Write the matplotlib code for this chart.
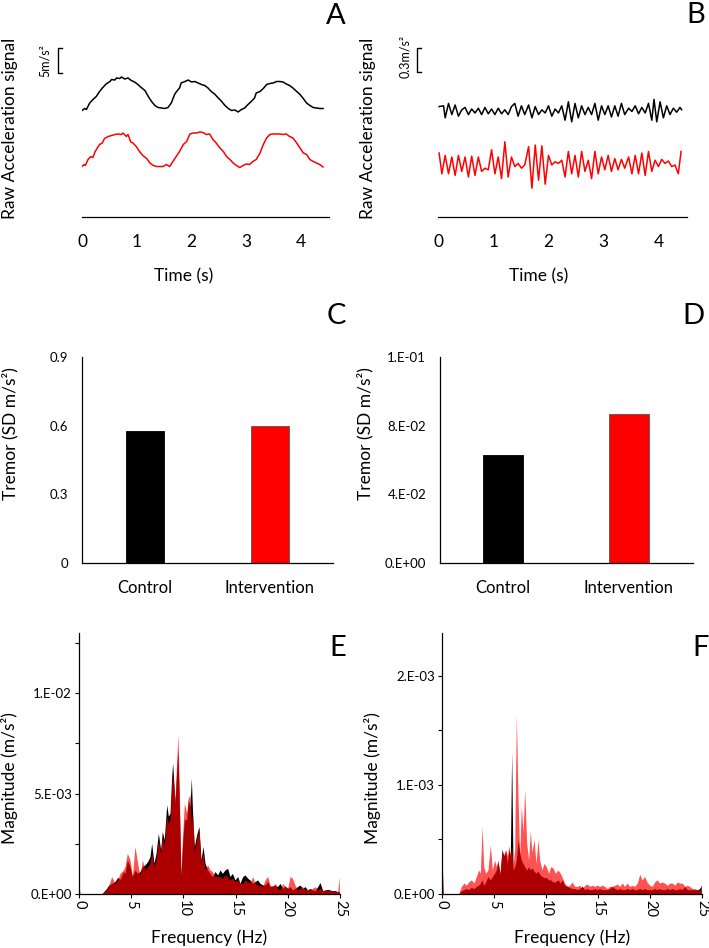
import numpy as np
import matplotlib
matplotlib.use("Agg")
import matplotlib.pyplot as plt

plt.rcParams['font.family'] = ['Lato', 'DejaVu Sans']

# ---- A: raw acceleration, high amplitude (m/s^2) ----
a_black_t = [0.00, 0.05, 0.08, 0.14, 0.20, 0.26, 0.32, 0.38, 0.44, 0.51, 0.54, 0.60, 0.63, 0.69, 0.72,
             0.78, 0.84, 0.90, 0.96, 1.02, 1.08, 1.15, 1.21, 1.27, 1.33, 1.39, 1.45, 1.51, 1.57, 1.63,
             1.69, 1.72, 1.78, 1.81, 1.88, 1.94, 2.00, 2.06, 2.12, 2.18, 2.24, 2.30, 2.36, 2.42, 2.48,
             2.55, 2.61, 2.67, 2.73, 2.79, 2.85, 2.91, 2.97, 3.03, 3.09, 3.15, 3.18, 3.25, 3.31, 3.37,
             3.43, 3.49, 3.55, 3.61, 3.67, 3.73, 3.79, 3.85, 3.92, 3.98, 4.04, 4.10, 4.16, 4.22, 4.28,
             4.34, 4.40]
a_black = [21.3, 21.7, 21.5, 22.8, 23.5, 24.1, 25.1, 25.9, 26.6, 27.1, 27.5, 27.4, 27.8, 27.7, 28.0,
           27.6, 27.8, 27.3, 27.0, 26.5, 25.9, 25.3, 24.1, 23.1, 22.3, 21.9, 21.8, 21.7, 21.9, 22.8,
           24.5, 25.0, 25.8, 26.8, 27.1, 27.4, 27.0, 27.1, 26.8, 26.5, 26.3, 25.8, 25.1, 24.6, 23.9,
           23.1, 22.3, 21.7, 21.3, 21.4, 21.0, 21.5, 21.8, 22.5, 23.1, 23.8, 24.8, 25.1, 25.7, 26.5,
           26.7, 26.8, 27.1, 27.1, 27.0, 26.6, 26.3, 25.8, 25.1, 24.5, 23.7, 22.8, 22.3, 21.9, 21.8,
           21.7, 21.7]
a_red_t = [0.00, 0.04, 0.06, 0.11, 0.16, 0.20, 0.24, 0.28, 0.32, 0.37, 0.41, 0.48, 0.54, 0.60, 0.66,
           0.72, 0.75, 0.81, 0.84, 0.89, 0.93, 0.99, 1.05, 1.11, 1.18, 1.24, 1.30, 1.36, 1.42, 1.48,
           1.54, 1.60, 1.66, 1.72, 1.78, 1.85, 1.91, 1.97, 2.03, 2.09, 2.15, 2.21, 2.27, 2.33, 2.39,
           2.45, 2.51, 2.58, 2.64, 2.70, 2.76, 2.82, 2.88, 2.94, 3.00, 3.06, 3.12, 3.18, 3.25, 3.31,
           3.37, 3.43, 3.49, 3.55, 3.61, 3.67, 3.73, 3.79, 3.85, 3.92, 3.98, 4.04, 4.10, 4.16, 4.22,
           4.28, 4.34, 4.40]
a_red = [10.1, 10.5, 10.3, 11.5, 12.1, 11.9, 13.1, 13.8, 14.5, 14.8, 15.7, 16.1, 16.3, 16.5, 16.6,
         16.5, 16.8, 16.1, 16.5, 15.0, 14.8, 14.1, 13.1, 12.3, 11.7, 10.8, 10.3, 10.1, 10.1, 10.1,
         10.5, 10.1, 11.1, 12.1, 13.1, 14.5, 15.1, 16.6, 16.8, 16.8, 17.0, 16.9, 16.5, 16.6, 15.5,
         14.8, 13.9, 13.1, 12.1, 11.5, 10.8, 10.3, 9.9, 10.3, 10.6, 10.5, 11.1, 11.5, 12.8, 14.5,
         15.8, 16.5, 16.6, 16.6, 16.6, 16.5, 16.6, 16.1, 15.8, 14.8, 13.8, 12.8, 12.5, 11.5, 11.1,
         10.8, 10.5, 10.0]

# ---- B: raw acceleration, low amplitude (deviation, m/s^2) ----
b_black_t = [0.02, 0.10, 0.13, 0.19, 0.25, 0.31, 0.37, 0.43, 0.49, 0.55, 0.61, 0.67, 0.73, 0.79, 0.85,
             0.91, 0.97, 1.03, 1.09, 1.15, 1.21, 1.27, 1.33, 1.39, 1.45, 1.51, 1.57, 1.64, 1.70, 1.76,
             1.82, 1.88, 1.94, 2.00, 2.06, 2.12, 2.18, 2.24, 2.30, 2.36, 2.42, 2.48, 2.54, 2.60, 2.66,
             2.72, 2.78, 2.84, 2.90, 2.96, 3.02, 3.08, 3.14, 3.20, 3.26, 3.32, 3.38, 3.45, 3.51, 3.57,
             3.63, 3.69, 3.75, 3.81, 3.87, 3.91, 3.96, 4.02, 4.08, 4.14, 4.20, 4.26, 4.32, 4.38, 4.41]
b_black = [0.04, 0.05, -0.10, 0.08, -0.06, 0.06, -0.08, 0.00, 0.03, -0.06, 0.01, -0.04, 0.02, -0.06, 0.03,
           -0.05, 0.01, -0.06, 0.02, -0.05, 0.00, -0.06, 0.04, 0.08, -0.08, 0.05, -0.06, 0.06, -0.10, 0.04,
           -0.06, 0.00, -0.04, 0.05, -0.08, 0.01, -0.04, 0.05, -0.13, 0.10, -0.15, 0.08, -0.10, 0.05, -0.06,
           0.03, -0.06, 0.08, -0.13, 0.05, -0.06, 0.05, -0.09, 0.05, -0.08, 0.08, -0.06, 0.02, -0.02, 0.05,
           -0.05, 0.03, -0.04, 0.08, -0.13, 0.13, -0.15, 0.10, -0.10, 0.05, -0.06, 0.02, -0.03, 0.03, 0.00]
b_red_t = [0.02, 0.07, 0.13, 0.19, 0.25, 0.31, 0.37, 0.43, 0.49, 0.55, 0.61, 0.67, 0.73, 0.79, 0.85,
           0.91, 0.97, 1.03, 1.09, 1.15, 1.21, 1.27, 1.33, 1.39, 1.45, 1.51, 1.57, 1.64, 1.70, 1.76,
           1.82, 1.88, 1.94, 2.00, 2.06, 2.12, 2.18, 2.24, 2.30, 2.36, 2.42, 2.48, 2.54, 2.60, 2.66,
           2.72, 2.78, 2.84, 2.90, 2.96, 3.02, 3.08, 3.14, 3.20, 3.26, 3.32, 3.38, 3.45, 3.51, 3.57,
           3.63, 3.69, 3.75, 3.81, 3.87, 3.93, 3.99, 4.05, 4.11, 4.17, 4.23, 4.29, 4.35, 4.40]
b_red = [0.13, -0.13, 0.10, -0.13, 0.08, -0.15, 0.10, -0.10, 0.08, -0.17, 0.09, -0.15, 0.08, -0.10, -0.06,
         -0.08, 0.17, -0.13, 0.08, -0.19, 0.27, -0.17, 0.08, -0.04, 0.00, -0.06, -0.02, 0.21, -0.31, 0.23,
         -0.21, 0.22, -0.26, 0.10, -0.02, 0.02, 0.00, 0.04, -0.17, 0.15, -0.13, 0.10, -0.17, 0.15, -0.10,
         0.04, -0.19, 0.15, -0.13, 0.08, -0.08, 0.10, -0.10, 0.06, -0.08, 0.05, -0.06, 0.08, -0.13, 0.10,
         -0.13, 0.13, -0.15, 0.15, -0.10, 0.04, -0.04, 0.05, 0.00, 0.03, -0.04, -0.02, -0.13, 0.15]

# ---- C / D: tremor SD ----
groups = ['Control', 'Intervention']
tremor_c = [0.577, 0.598]
tremor_d = [0.0629, 0.0868]
c_ticks = [0, 0.3, 0.6, 0.9]
c_ticklabels = ['0', '0.3', '0.6', '0.9']
d_ticks = [0, 0.04, 0.08, 0.12]
d_ticklabels = ['0.E+00', '4.E-02', '8.E-02', '1.E-01']

# ---- E: spectrum, high amplitude (x 1e-3 m/s^2) ----
e_freq = [0.0, 0.12, 2.17, 2.65, 2.81, 3.13, 3.45, 3.70, 3.93, 4.25, 4.41, 4.63, 4.89, 5.11, 5.36,
          5.62, 5.84, 6.07, 6.32, 6.58, 6.80, 6.96, 7.18, 7.38, 7.60, 7.82, 7.98, 8.17, 8.40, 8.56,
          8.72, 8.88, 8.97, 9.20, 9.36, 9.48, 9.64, 9.77, 9.90, 10.09, 10.31, 10.47, 10.63, 10.76, 10.89,
          11.05, 11.27, 11.49, 11.69, 11.88, 12.07, 12.32, 12.55, 12.77, 13.03, 13.28, 13.51, 13.73, 13.99, 14.24,
          14.46, 14.69, 14.94, 15.20, 15.42, 15.68, 15.90, 16.16, 16.38, 16.64, 16.86, 17.11, 17.34, 17.59, 17.82,
          18.07, 18.30, 18.55, 18.77, 19.03, 19.25, 19.51, 19.73, 19.99, 20.21, 20.44, 20.69, 20.95, 21.17, 21.43,
          21.65, 21.90, 22.13, 22.38, 22.61, 22.86, 23.09, 23.34, 23.56, 23.82, 24.04, 24.27, 24.52, 24.78, 24.94]
e_black = [0, 0, 0, 0.28, 0.42, 0.53, 0.62, 0.83, 0.73, 1.12, 1.03, 1.70, 1.37, 0.87, 1.20,
           1.03, 1.12, 1.37, 1.45, 1.62, 1.87, 2.53, 1.53, 2.03, 3.03, 2.20, 3.12, 2.70, 4.45, 3.87,
           4.03, 5.87, 6.53, 4.53, 6.20, 7.20, 3.70, 0.87, 2.37, 3.70, 3.70, 4.70, 4.37, 5.78, 3.87,
           2.37, 2.95, 3.37, 1.70, 2.37, 1.53, 1.20, 1.03, 0.87, 1.12, 0.95, 1.20, 1.03, 1.20, 1.28,
           0.87, 1.03, 0.70, 0.87, 0.53, 0.87, 0.95, 0.78, 0.70, 0.53, 0.62, 0.70, 0.53, 0.45, 0.45,
           0.62, 0.37, 0.40, 0.45, 0.37, 0.53, 0.28, 0.40, 0.28, 0.37, 0.20, 0.28, 0.37, 0.45, 0.28,
           0.37, 0.20, 0.28, 0.20, 0.17, 0.37, 0.57, 0.17, 0.20, 0.23, 0.20, 0.17, 0.17, 0.12, 0.12]
e_red = [0.40, 0, 0, 0.20, 0.37, 0.87, 0.53, 0.70, 1.03, 1.20, 1.37, 2.03, 1.70, 0.87, 2.37,
         1.53, 0.87, 1.70, 1.20, 1.37, 1.53, 2.03, 1.37, 1.70, 2.70, 2.03, 2.87, 2.37, 3.87, 3.53,
         3.70, 5.37, 6.03, 4.70, 6.70, 7.95, 4.53, 0.70, 2.70, 4.53, 4.03, 4.78, 4.95, 3.37, 4.03,
         2.03, 2.70, 3.20, 1.53, 2.03, 1.20, 1.45, 1.20, 1.12, 0.87, 0.87, 0.87, 0.78, 0.95, 0.87,
         0.70, 0.78, 0.62, 0.70, 0.53, 0.53, 0.70, 0.62, 0.53, 0.87, 0.53, 0.45, 0.45, 0.37, 0.70,
         0.87, 0.45, 0.37, 0.53, 0.28, 0.20, 0.53, 0.37, 0.28, 0.87, 0.78, 0.45, 0.20, 0.28, 0.37,
         0.20, 0.23, 0.20, 0.28, 0.37, 0.20, 0.28, 0.17, 0.20, 0.17, 0.17, 0.17, 0.12, 0.12, 0.87]

# ---- F: spectrum, low amplitude (x 1e-3 m/s^2) ----
f_freq = [0.0, 0.1, 1.60, 1.86, 2.12, 2.34, 2.56, 2.82, 3.08, 3.30, 3.53, 3.69,
          3.85, 4.01, 4.20, 4.42, 4.65, 4.84, 5.06, 5.22, 5.38, 5.58,
          5.77, 5.93, 6.12, 6.28, 6.44, 6.57, 6.70, 6.83, 6.99, 7.15,
          7.31, 7.47, 7.63, 7.79, 7.95, 8.14, 8.33, 8.49, 8.65, 8.85,
          9.04, 9.23, 9.39, 9.62, 9.81, 10.03, 10.26, 10.45, 10.67, 10.90,
          11.15, 11.38, 11.57, 11.79, 12.05, 12.28, 12.50, 12.76, 13.01, 13.24,
          13.49, 13.72, 13.97, 14.20, 14.45, 14.68, 14.94, 15.16, 15.42, 15.64,
          15.90, 16.12, 16.38, 16.60, 16.86, 17.08, 17.34, 17.56, 17.82, 18.04,
          18.30, 18.52, 18.78, 19.01, 19.23, 19.49, 19.71, 19.97, 20.19, 20.45,
          20.67, 20.93, 21.15, 21.41, 21.67, 21.89, 22.15, 22.37, 22.63, 22.85,
          23.11, 23.33, 23.59, 23.81, 24.07, 24.29, 24.57, 24.77, 24.93]
f_black = [0.35, 0, 0, 0.03, 0.04, 0.05, 0.04, 0.06, 0.05, 0.07, 0.08, 0.10,
           0.13, 0.08, 0.11, 0.16, 0.13, 0.16, 0.19, 0.22, 0.30, 0.18,
           0.41, 0.35, 0.39, 0.28, 0.41, 0.35, 1.30, 0.22, 0.25, 0.31,
           0.50, 0.38, 0.31, 0.28, 0.25, 0.22, 0.25, 0.22, 0.24, 0.21,
           0.19, 0.21, 0.18, 0.16, 0.15, 0.15, 0.13, 0.13, 0.11, 0.11,
           0.13, 0.10, 0.13, 0.08, 0.07, 0.06, 0.05, 0.05, 0.04, 0.05,
           0.07, 0.04, 0.05, 0.04, 0.04, 0.05, 0.04, 0.05, 0.04, 0.04,
           0.04, 0.05, 0.07, 0.05, 0.04, 0.05, 0.04, 0.04, 0.05, 0.04,
           0.05, 0.04, 0.04, 0.05, 0.04, 0.05, 0.04, 0.04, 0.04, 0.05,
           0.04, 0.05, 0.04, 0.04, 0.05, 0.04, 0.05, 0.04, 0.04, 0.05,
           0.04, 0.07, 0.04, 0.04, 0.04, 0.04, 0.04, 0.05, 0.08]
f_red = [0.45, 0, 0, 0.07, 0.10, 0.08, 0.11, 0.13, 0.10, 0.16, 0.22, 0.19,
         0.62, 0.25, 0.19, 0.22, 0.45, 0.22, 0.31, 0.25, 0.31, 0.19,
         0.39, 0.35, 0.41, 0.35, 0.44, 0.35, 0.44, 0.25, 0.41, 1.65,
         0.87, 0.35, 0.81, 0.56, 0.96, 0.47, 0.31, 0.58, 0.38, 0.50,
         0.28, 0.50, 0.31, 0.22, 0.28, 0.25, 0.19, 0.25, 0.24, 0.19,
         0.22, 0.19, 0.15, 0.10, 0.07, 0.08, 0.11, 0.07, 0.07, 0.08,
         0.05, 0.08, 0.09, 0.07, 0.08, 0.07, 0.08, 0.07, 0.08, 0.07,
         0.05, 0.07, 0.07, 0.08, 0.09, 0.07, 0.10, 0.07, 0.10, 0.07,
         0.08, 0.07, 0.10, 0.18, 0.13, 0.16, 0.11, 0.08, 0.07, 0.11,
         0.13, 0.10, 0.11, 0.10, 0.08, 0.10, 0.10, 0.08, 0.11, 0.10,
         0.10, 0.07, 0.08, 0.07, 0.05, 0.05, 0.04, 0.04, 0.02]

W, H = 709, 948


def box(l, r, b, t):
    # pixel edges -> figure fraction rect
    return [l / W, 1 - b / H, (r - l) / W, (b - t) / H]


fig = plt.figure(figsize=(W / 100, H / 100), dpi=100)


def trace_axes(ax, ylab_x):
    for s in ['left', 'top', 'right']:
        ax.spines[s].set_visible(False)
    ax.spines['bottom'].set_linewidth(0.9)
    ax.set_yticks([])
    ax.set_xlim(0, 4.5)
    ax.set_xticks([0, 1, 2, 3, 4])
    ax.tick_params(axis='x', length=0, pad=12, labelsize=12.5)
    ax.set_ylabel('Raw Acceleration signal', fontsize=12.5)
    ax.yaxis.label.set_va('center')
    ax.yaxis.set_label_coords(ylab_x, 0.503)
    ax.set_xlabel('Time (s)', fontsize=12.5)
    ax.xaxis.label.set_va('center')


# A
axA = fig.add_axes(box(82, 328.5, 217, 40))
axA.plot(a_black_t, a_black, color='black', lw=1.1)
axA.plot(a_red_t, a_red, color='red', lw=1.1)
axA.set_ylim(0, 35.4)
trace_axes(axA, -0.292)
axA.xaxis.set_label_coords(0.414, -0.333)
scale_a = 5.0
axA.plot([-0.37, -0.44, -0.44, -0.37], [28.8 + scale_a, 28.8 + scale_a, 28.8, 28.8],
         color='black', lw=1.0, clip_on=False)
axA.text(-0.68, 31.2, '5m/s²', rotation=90, ha='center', va='center', fontsize=9)

# B
axB = fig.add_axes(box(438, 686.6, 217, 40))
axB.plot(b_black_t, np.array(b_black) + 1.34, color='black', lw=1.1)
axB.plot(b_red_t, np.array(b_red) + 0.67, color='red', lw=1.1)
axB.set_ylim(0, 2.2125)
trace_axes(axB, -0.282)
axB.xaxis.set_label_coords(0.406, -0.333)
scale_b = 0.3
axB.plot([-0.31, -0.38, -0.38, -0.31], [1.8125 + scale_b, 1.8125 + scale_b, 1.8125, 1.8125],
         color='black', lw=1.0, clip_on=False)
axB.text(-0.6, 2.0, '0.3m/s²', rotation=90, ha='center', va='center', fontsize=9)


def bar_axes(ax, vals, width, ticks, ticklabels, ylim, xlim, ylab_x):
    ax.bar([0, 1], vals, width=width, color=['black', 'red'],
           edgecolor=['black', '#555555'], linewidth=0.6)
    for s in ['top', 'right']:
        ax.spines[s].set_visible(False)
    for s in ['left', 'bottom']:
        ax.spines[s].set_linewidth(0.9)
    ax.set_xlim(*xlim)
    ax.set_ylim(*ylim)
    ax.set_yticks(ticks)
    ax.set_yticklabels(ticklabels)
    ax.set_xticks([0, 1])
    ax.set_xticklabels(groups)
    ax.tick_params(axis='y', length=0, pad=10, labelsize=9.5)
    ax.tick_params(axis='x', length=0, pad=12, labelsize=12)
    ax.set_ylabel('Tremor (SD m/s²)', fontsize=12.5)
    ax.yaxis.label.set_va('center')
    ax.yaxis.set_label_coords(ylab_x, 0.626)


axC = fig.add_axes(box(82, 333, 563, 357))
bar_axes(axC, tremor_c, 0.31, c_ticks, c_ticklabels, (0, 0.9), (-0.504, 1.504), -0.287)
axD = fig.add_axes(box(440, 693, 563, 357))
bar_axes(axD, tremor_d, 0.32, d_ticks, d_ticklabels, (0, 0.12), (-0.5, 1.508), -0.296)


def spec_axes(ax, freq, blk, red, top, ticks, ticklabels):
    blk = np.array(blk) * 1e-3
    red = np.array(red) * 1e-3
    ax.fill_between(freq, 0, blk, color='black', lw=0)
    ax.fill_between(freq, 0, red, color='red', alpha=0.68, lw=0)
    for s in ['top', 'right']:
        ax.spines[s].set_visible(False)
    for s in ['left', 'bottom']:
        ax.spines[s].set_linewidth(0.9)
    ax.set_xlim(0, 25)
    ax.set_ylim(0, top)
    ax.set_xticks([0, 5, 10, 15, 20, 25])
    ax.set_xticklabels(['0', '5', '10', '15', '20', '25'], rotation=-90)
    ax.set_yticks(ticks)
    ax.set_yticklabels(ticklabels)
    ax.tick_params(axis='both', direction='out', length=3, width=0.8)
    ax.tick_params(axis='y', pad=2, labelsize=9.5)
    ax.tick_params(axis='x', pad=1, labelsize=10.5)
    ax.set_ylabel('Magnitude (m/s²)', fontsize=12.5)
    ax.yaxis.label.set_va('center')
    ax.yaxis.set_label_coords(-0.268, 0.444)
    ax.set_xlabel('Frequency (Hz)', fontsize=12.5)
    ax.xaxis.label.set_va('center')
    ax.xaxis.set_label_coords(0.5, -0.169)


axE = fig.add_axes(box(79, 340, 894, 633))
spec_axes(axE, e_freq, e_black, e_red, 0.013,
          [0, 0.0025, 0.005, 0.0075, 0.01, 0.0125],
          ['0.E+00', '', '5.E-03', '', '1.E-02', ''])
axF = fig.add_axes(box(442, 702, 894, 633))
spec_axes(axF, f_freq, f_black, f_red, 0.00239,
          [0, 0.0005, 0.001, 0.0015, 0.002],
          ['0.E+00', '', '1.E-03', '', '2.E-03'])

for lab, x, y in [('A', 336, 16), ('B', 696, 15), ('C', 336, 316),
                  ('D', 693, 316), ('E', 338, 648), ('F', 701, 648)]:
    fig.text(x / W, 1 - y / H, lab, ha='center', va='center', fontsize=21)

fig.savefig('out.png', dpi=100)
